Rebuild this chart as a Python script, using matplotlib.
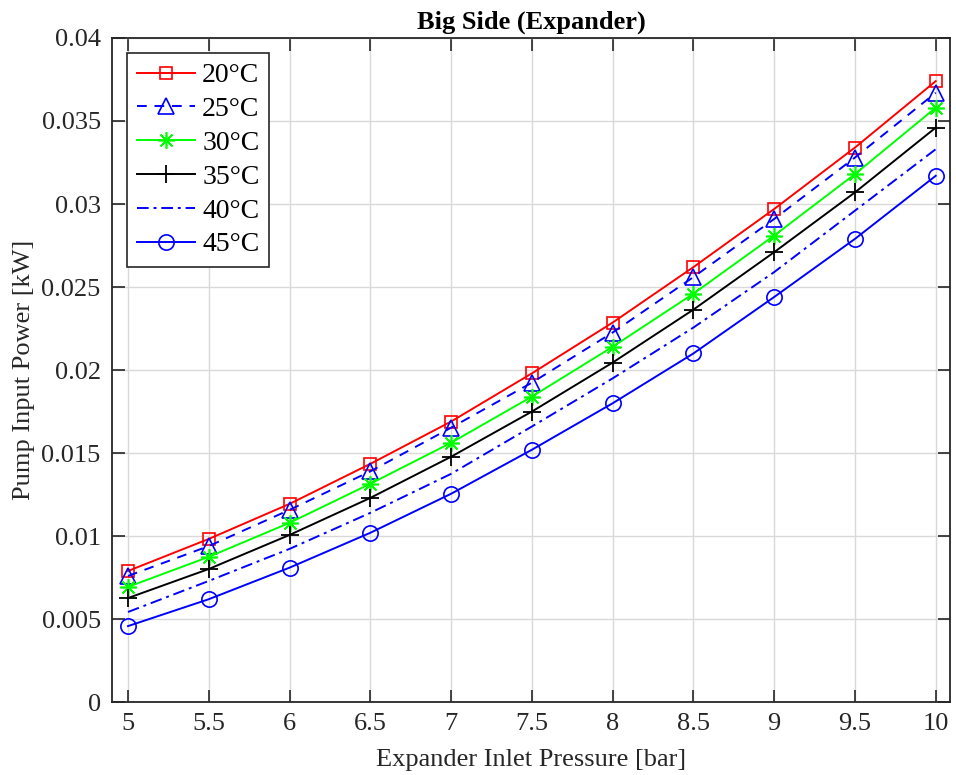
import numpy as np
import matplotlib
matplotlib.use("Agg")
import matplotlib.pyplot as plt

plt.rcParams['font.family'] = ['Liberation Serif', 'DejaVu Serif']
plt.rcParams['font.size'] = 19

# inlet pressure [bar]
pressure = [5, 5.5, 6, 6.5, 7, 7.5, 8, 8.5, 9, 9.5, 10]

# pump input power [kW] for each condensing temperature
p20 = [0.0079, 0.00983, 0.01194, 0.01435, 0.0169, 0.0198, 0.02286, 0.0262, 0.0297, 0.0334, 0.0374]
p25 = [0.0076, 0.0094, 0.01158, 0.0139, 0.01653, 0.01924, 0.02226, 0.0256, 0.0291, 0.0328, 0.0367]
p30 = [0.00694, 0.00875, 0.0108, 0.01315, 0.01562, 0.0184, 0.0214, 0.0246, 0.0281, 0.0318, 0.0358]
p35 = [0.00627, 0.00802, 0.01007, 0.0123, 0.01478, 0.0175, 0.02045, 0.02364, 0.0271, 0.0307, 0.0346]
p40 = [0.00543, 0.0073, 0.00923, 0.0114, 0.01375, 0.0166, 0.0195, 0.02256, 0.0259, 0.0296, 0.0333]
p45 = [0.00458, 0.0062, 0.0081, 0.0102, 0.01255, 0.0152, 0.0180, 0.0210, 0.0244, 0.0279, 0.0317]

labels = ['20°C', '25°C', '30°C', '35°C', '40°C', '45°C']

fig = plt.figure(figsize=(9.56, 7.75), dpi=100)
ax = fig.add_axes([0.117, 0.094, 0.877, 0.857])

lw = 1.4
ax.plot(pressure, p20, color='red', linestyle='-', lw=lw, marker='s', ms=9,
        mfc='none', mew=1.2, label=labels[0])
ax.plot(pressure, p25, color='blue', linestyle=(0, (5, 4)), lw=lw, marker='^', ms=11,
        mfc='none', mew=1.2, label=labels[1])
ax.plot(pressure, p30, color='#00ff00', linestyle='-', lw=lw, marker=(8, 2, 0), ms=12,
        mew=1.2, label=labels[2])
ax.plot(pressure, p35, color='black', linestyle='-', lw=lw, marker='+', ms=13,
        mew=1.3, label=labels[3])
ax.plot(pressure, p40, color='blue', linestyle=(0, (6, 2.5, 1.5, 2.5)), lw=lw,
        label=labels[4])
ax.plot(pressure, p45, color='blue', linestyle='-', lw=lw, marker='o', ms=11,
        mfc='none', mew=1.2, label=labels[5])

ax.set_xlim(4.9, 10.09)
ax.set_ylim(0, 0.04)
ax.set_xticks(pressure)
ax.set_xticklabels(['5', '5.5', '6', '6.5', '7', '7.5', '8', '8.5', '9', '9.5', '10'])
yt = np.arange(0, 0.0401, 0.005)
ax.set_yticks(yt)
ax.set_yticklabels(['0', '0.005', '0.01', '0.015', '0.02', '0.025', '0.03', '0.035', '0.04'])

ax.grid(True, color='#d9d9d9', linewidth=1.0)
ax.set_axisbelow(True)
ax.tick_params(direction='in', length=9, width=1.2, top=True, right=True,
               color='#262626', labelcolor='#262626', pad=8)
for s in ax.spines.values():
    s.set_color('#262626')
    s.set_linewidth(1.3)

ax.set_xlabel('Expander Inlet Pressure [bar]', color='#262626', labelpad=10)
ax.set_ylabel('Pump Input Power [kW]', color='#262626', labelpad=5)
ax.set_title('Big Side (Expander)', fontweight='bold', fontsize=19, pad=7)

leg = ax.legend(loc='upper left', fontsize=20, frameon=True, fancybox=False,
                edgecolor='#262626', framealpha=1, borderaxespad=0.55,
                handlelength=2.1, handletextpad=0.25, labelspacing=0.3,
                borderpad=0.35)
leg.get_frame().set_linewidth(1.2)

plt.savefig('out.png', dpi=100)
